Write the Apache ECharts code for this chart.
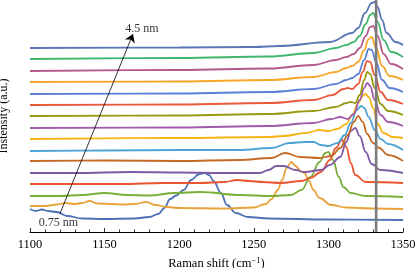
<!DOCTYPE html>
<html><head><meta charset="utf-8">
<script src="https://cdn.jsdelivr.net/npm/echarts@6/dist/echarts.min.js"></script>
<style>html,body{margin:0;padding:0;background:#fff}#c{width:415px;height:268px}</style>
</head><body><div id="c"></div>
<script>
// Raman spectra (shift cm^-1, stacked intensity a.u.), bottom (0.75 nm) to top (4.5 nm)
const s01 = [[1100,23],[1104,21],[1108,22.5],[1112,21],[1118,20],[1125,16],[1135,13.5],[1150,13],[1170,13.5],[1180,15],[1186,18],[1190,24],[1194,33],[1198,36.5],[1203,42],[1208,52],[1213,57.5],[1217,59],[1220,57],[1223,51],[1228,39],[1232,27],[1238,19],[1246,15],[1260,13.5],[1300,12.5],[1350,12]];
const s02 = [[1100,26],[1110,26],[1118,27.5],[1124,29],[1130,28],[1135,29],[1140,31],[1145,28.5],[1155,28],[1162,27.5],[1170,28],[1178,30],[1184,27],[1192,25],[1200,24],[1230,23.5],[1250,24.5],[1258,28],[1262,33],[1266,42],[1269,52],[1272,64],[1275,70],[1278,66],[1282,60],[1284,59],[1287,51],[1290,42],[1294,34],[1302,27],[1312,24.5],[1330,23.5],[1350,23]];
const s03 = [[1100,36],[1120,36],[1135,37],[1150,39],[1165,37],[1180,36.5],[1197,39],[1214,40],[1241,37],[1262,36],[1275,37],[1282,42],[1288,55],[1294,70],[1298,79],[1300,80],[1303,72],[1307,55],[1310,45],[1315,39],[1325,36],[1350,35]];
const s04 = [[1100,48],[1130,48],[1160,48],[1190,49],[1214,49],[1230,50],[1239,52],[1247,51],[1256,50],[1268,49],[1282,51],[1288,54],[1295,60],[1301,72],[1305,84],[1309,92],[1312,85],[1315,69],[1318,57],[1325,50],[1350,49]];
const s05 = [[1100,59],[1130,59],[1169,60],[1200,59.5],[1230,59],[1254,59],[1260,62],[1265,66],[1270,66],[1278,62],[1284,60],[1295,62],[1301,67],[1308,75],[1312,90],[1315,101],[1318,104],[1321,96],[1325,80],[1329,68],[1335,62],[1350,59]];
const s06 = [[1100,71],[1150,71.5],[1200,71],[1240,72],[1262,74],[1271,79],[1281,75],[1294,74],[1302,76],[1308,84],[1313,97],[1317,110],[1320,116],[1323,110],[1326,98],[1330,89],[1334,84],[1340,77],[1350,71]];
const s07 = [[1100,81],[1150,81.5],[1200,82],[1240,82],[1262,84],[1274,89],[1284,90],[1290,90],[1295,87],[1300,86],[1306,89],[1311,97],[1315,109],[1319,122],[1322,126],[1324,124],[1327,115],[1331,102],[1335,93],[1340,88],[1350,82]];
const s08 = [[1100,93],[1200,94],[1260,95],[1270,96],[1285,99],[1294,102],[1300,101],[1306,103],[1312,108],[1316,117],[1320,129],[1323,136],[1325,138],[1327,135],[1330,124],[1333,108],[1337,99],[1343,95],[1350,94]];
const s09 = [[1100,104],[1200,104.5],[1260,106],[1290,109],[1302,113],[1308,115],[1313,113],[1317,118],[1321,132],[1324,144],[1326,149],[1328,146],[1331,132],[1335,117],[1340,110],[1350,106]];
const s10 = [[1100,116],[1200,116.5],[1260,118],[1290,121],[1305,125],[1312,129],[1315,130],[1318,129],[1321,137],[1324,152],[1326,160],[1328,158],[1331,144],[1335,128],[1340,121],[1350,117]];
const s11 = [[1100,127],[1200,127.5],[1260,129],[1290,132],[1303,137],[1310,143],[1313,144],[1316,143],[1320,148],[1323,160],[1326,171],[1328,170],[1331,157],[1335,140],[1340,132],[1350,128]];
const s12 = [[1100,138],[1200,138.5],[1260,140],[1290,143],[1305,148],[1312,152],[1316,154],[1320,158],[1324,172],[1327,183],[1329,182],[1332,170],[1336,152],[1341,144],[1350,140]];
const s13 = [[1100,150],[1200,150.5],[1260,152],[1290,155],[1305,160],[1312,164],[1316,166],[1320,170],[1324,182],[1327,193],[1329,195],[1332,184],[1336,166],[1341,156],[1350,152]];
const s14 = [[1100,161],[1200,162],[1260,163.5],[1290,167],[1305,172],[1312,175],[1317,178],[1321,184],[1325,196],[1328,205],[1330,206],[1333,196],[1337,178],[1342,168],[1350,163]];
const s15 = [[1100,173],[1200,174],[1260,175.5],[1290,179],[1305,184],[1312,187],[1317,190],[1321,196],[1325,208],[1328,217],[1330,219],[1333,210],[1337,192],[1342,180],[1350,175]];
const s16 = [[1100,184],[1200,184.5],[1250,185],[1267,186],[1301,190],[1316,199],[1320,204],[1324.5,219],[1329,229],[1331,230],[1333,225],[1336,212],[1339,199],[1345,190],[1350,187]];

const spectra = [s01,s02,s03,s04,s05,s06,s07,s08,s09,s10,s11,s12,s13,s14,s15,s16];
const colors = ['#4c72b5','#e8a23a','#79ae3a','#e8552f','#7e5aa6','#c46a26','#4ea3d6','#f6b417',
                '#a05caa','#9a9a12','#e9583a','#5b80d6','#f7a62a','#b3598b','#41b66f','#5a77b5'];

const refLine = [[1332,0],[1332,232]];
const arrowPath = [[1120,18],[1169,198]];
const labelTop = [[1175,203,'4.5 nm']];
const labelBottom = [[1119,9,'0.75 nm']];
const xTicks = {min:1100, max:1350, step:50};

const font = 'Liberation Serif';
const chart = echarts.init(document.getElementById('c'), null, {renderer:'canvas'});
const series = spectra.map((d,i)=>({
  type:'line', data:d, showSymbol:false, smooth:0.4, smoothMonotone:'x',
  lineStyle:{color:colors[i], width:1.8}, z:2+i
}));
series.push({type:'line', data:refLine, showSymbol:false, lineStyle:{color:'#7b7b7b', width:2.6}, z:30});
series.push({type:'lines', coordinateSystem:'cartesian2d', data:[{coords:arrowPath}],
  lineStyle:{color:'#000', width:0.8, opacity:1}, symbol:['none','arrow'], symbolSize:[5,8], z:31});
[labelTop,labelBottom].forEach(L=>series.push({type:'scatter', data:L, symbolSize:0, z:32,
  label:{show:true, position:'inside', formatter:p=>p.data[2], color:'#000', fontFamily:font, fontSize:12}}));

chart.setOption({
  animation:false,
  grid:{left:30, right:12, top:0, bottom:36, outerBoundsMode:'none', containLabel:false},
  xAxis:{type:'value', min:xTicks.min, max:xTicks.max, interval:xTicks.step,
    axisLine:{show:true, lineStyle:{color:'#000', width:1}},
    axisTick:{show:true, inside:true, length:4, lineStyle:{color:'#000', width:0.8}},
    minorTick:{show:true, splitNumber:5, length:2.5, lineStyle:{color:'#000', width:0.8}},
    splitLine:{show:false},
    axisLabel:{color:'#000', fontFamily:font, fontSize:12.5, margin:6, formatter:v=>String(v)},
    name:'Raman shift (cm{s|−1})', nameLocation:'middle', nameGap:24,
    nameTextStyle:{color:'#000', fontFamily:font, fontSize:12.5, rich:{s:{fontSize:8.5, fontFamily:font, color:'#000', padding:[0,0,6,0]}}}
  },
  yAxis:{type:'value', min:0, max:232, show:true,
    axisLine:{show:false}, axisTick:{show:false}, axisLabel:{show:false}, splitLine:{show:false},
    name:'Instensity (a.u.)', nameLocation:'middle', nameGap:20,
    nameTextStyle:{color:'#000', fontFamily:font, fontSize:12}
  },
  series
});
</script></body></html>
